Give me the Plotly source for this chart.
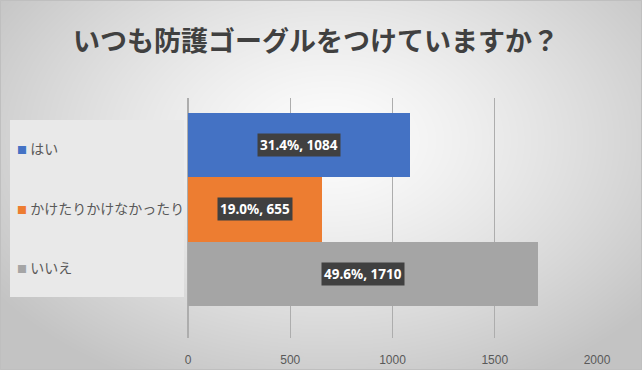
import zlib, struct, base64
import numpy as np
import plotly.graph_objects as go

categories = ["はい", "かけたりかけなかったり", "いいえ"]
values = [1084, 655, 1710]
colors = ["#4472C4", "#ED7D31", "#A5A5A5"]
x_ticks = [0, 500, 1000, 1500, 2000]
title = "いつも防護ゴーグルをつけていますか？"

total = sum(values)
labels = [f"{v / total * 100:.1f}%, {v}" for v in values]

W, H = 642, 370
ML, MR, MT, MB = 188, 45, 98, 32
PW, PH = W - ML - MR, H - MT - MB

# radial gradient background as PNG
yy, xx = np.mgrid[0:H, 0:W]
d = np.sqrt(((xx - 330) / 420.0) ** 2 + ((yy - 140) / 280.0) ** 2)
v = np.clip(253 - 60 * d ** 1.3, 195, 253).astype(np.uint8)
raw = b"".join(b"\x00" + v[r].tobytes() for r in range(H))
def chunk(tag, data):
    return struct.pack(">I", len(data)) + tag + data + struct.pack(">I", zlib.crc32(tag + data) & 0xffffffff)
png = (b"\x89PNG\r\n\x1a\n" + chunk(b"IHDR", struct.pack(">IIBBBBB", W, H, 8, 0, 0, 0, 0))
       + chunk(b"IDAT", zlib.compress(raw, 9)) + chunk(b"IEND", b""))
bg_src = "data:image/png;base64," + base64.b64encode(png).decode()

order = categories[::-1]  # bottom to top

def px_x(p):
    return (p - ML) / PW
def px_y(p):
    return 1 - (p - MT) / PH

legend_px_y = [148, 208, 267]

fig = go.Figure()
for i, (c, val, col) in enumerate(zip(categories, values, colors)):
    fig.add_trace(go.Bar(
        y=[c], x=[val], orientation="h", name=c, marker=dict(color=col, line=dict(width=0)),
        hoverinfo="skip", showlegend=False,
    ))
    fig.add_annotation(
        x=val / 2, y=c, xref="x", yref="y", text=f"<b>{labels[i]}</b>", showarrow=False,
        bgcolor="#404040", font=dict(color="white", size=13.5, family="Noto Sans, Noto Sans CJK JP"),
        borderpad=2,
    )
    # legend entry
    fig.add_annotation(
        x=px_x(15), y=px_y(legend_px_y[i]), xref="paper", yref="paper", xanchor="left", yanchor="middle",
        text=f"<span style='color:{col};font-size:10px'>■</span> {c}", showarrow=False,
        font=dict(size=14, color="#595959", family="Noto Sans CJK JP"),
    )

fig.add_layout_image(dict(source=bg_src, xref="paper", yref="paper",
                          x=px_x(0), y=px_y(0), sizex=W / PW, sizey=H / PH,
                          xanchor="left", yanchor="top", sizing="stretch", layer="below"))

fig.add_shape(type="rect", xref="paper", yref="paper",
              x0=px_x(10), x1=px_x(184), y0=px_y(297), y1=px_y(120),
              fillcolor="#E9E9E9", line=dict(width=0), layer="below")
fig.add_shape(type="rect", xref="paper", yref="paper",
              x0=px_x(0.5), x1=px_x(W - 0.5), y0=px_y(H - 0.5), y1=px_y(0.5),
              fillcolor="rgba(0,0,0,0)", line=dict(width=1, color="#BFBFBF"))

fig.update_layout(
    width=W, height=H,
    margin=dict(l=ML, r=MR, t=MT, b=MB, autoexpand=False),
    paper_bgcolor="#DDDDDD", plot_bgcolor="rgba(0,0,0,0)",
    title=dict(text=title, x=316 / W, xref="container", xanchor="center", y=1 - 42 / H, yanchor="middle",
               font=dict(size=27, color="#404040", family="Noto Sans CJK JP", weight="bold")),
    bargap=0,
    showlegend=False,
    xaxis=dict(range=[0, 2000], tickvals=x_ticks, ticktext=[str(t) for t in x_ticks],
               showgrid=True, gridcolor="#ADADAD", gridwidth=1, zeroline=True, zerolinecolor="#ADADAD",
               tickfont=dict(size=12, color="#595959", family="Liberation Sans, Noto Sans"),
               ticklabelstandoff=13, automargin=False,
               showline=False, fixedrange=True),
    yaxis=dict(categoryorder="array", categoryarray=order, range=[-0.997, 2.728], automargin=False,
               showticklabels=False, showgrid=False, zeroline=False, showline=False, fixedrange=True),
    font=dict(family="Noto Sans CJK JP"),
)

fig.write_html("out.html", config={"displayModeBar": False},
               post_script="document.body.style.margin='0';document.body.style.padding='0';")
